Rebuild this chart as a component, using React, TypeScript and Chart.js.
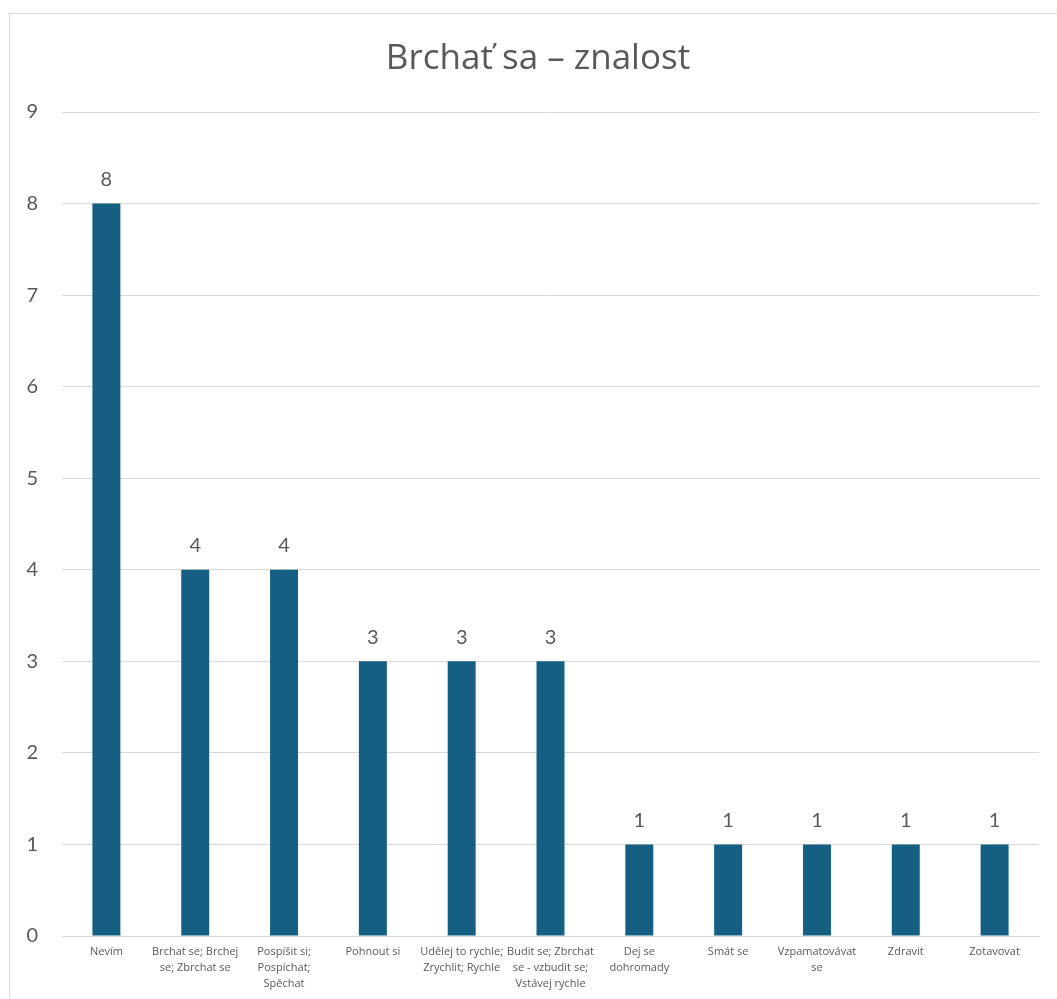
import React, { useEffect, useRef } from "react";
import { Chart, registerables } from "chart.js";

Chart.register(...registerables);

const chartTitle = "Brchať sa – znalost";
const categories: (string | string[])[] = [
  "Nevím",
  ["Brchat se; Brchej", "se; Zbrchat se"],
  ["Pospíšit si;", "Pospíchat;", "Spěchat"],
  "Pohnout si",
  ["Udělej to rychle;", "Zrychlit; Rychle"],
  ["Budit se; Zbrchat", "se - vzbudit se;", "Vstávej rychle"],
  ["Dej se", "dohromady"],
  "Smát se",
  ["Vzpamatovávat", "se"],
  "Zdravit",
  "Zotavovat",
];
const values = [8, 4, 4, 3, 3, 3, 1, 1, 1, 1, 1];
const yMin = 0;
const yMax = 9;

const FONT = "Lato, 'Open Sans', sans-serif";
const FONT2 = "'Open Sans', Lato, sans-serif";
const TEXT = "#595959";
const GRID = "#d9d9d9";
const BAR = "#156082";

const dataLabelPlugin = {
  id: "dataLabels",
  afterDatasetsDraw(chart: any) {
    const ctx = chart.ctx;
    const meta = chart.getDatasetMeta(0);
    ctx.save();
    ctx.font = `20px ${FONT}`;
    ctx.fillStyle = TEXT;
    ctx.textAlign = "center";
    ctx.textBaseline = "bottom";
    meta.data.forEach((el: any, i: number) => {
      ctx.fillText(String(chart.data.datasets[0].data[i]), el.x, el.y - 14);
    });
    ctx.restore();
  },
};

const titlePlugin = {
  id: "boxTitle",
  afterDraw(chart: any) {
    const ctx = chart.ctx;
    ctx.save();
    ctx.font = `35px ${FONT2}`;
    ctx.fillStyle = TEXT;
    ctx.textAlign = "center";
    ctx.textBaseline = "alphabetic";
    ctx.fillText(chartTitle, 538, 69);
    ctx.restore();
  },
};

export default function App() {
  const ref = useRef<HTMLCanvasElement>(null);
  useEffect(() => {
    if (!ref.current) return;
    const chart = new Chart(ref.current, {
      type: "bar",
      data: {
        labels: categories,
        datasets: [
          {
            data: values,
            backgroundColor: BAR,
            categoryPercentage: 1,
            barPercentage: 0.315,
          },
        ],
      },
      options: {
        animation: false,
        responsive: true,
        maintainAspectRatio: false,
        layout: { padding: { left: 0, right: 18, top: 112, bottom: 0 } },
        plugins: {
          legend: { display: false },
          tooltip: { enabled: false },
          title: { display: false },
        },
        scales: {
          x: {
            grid: { display: false, drawTicks: false },
            border: { display: true, color: GRID, width: 1 },
            ticks: {
              color: TEXT,
              font: { family: FONT2, size: 11, lineHeight: 1.45 },
              maxRotation: 0,
              minRotation: 0,
              autoSkip: false,
              padding: 8,
            },
            afterFit(scale: any) {
              scale.height = 63;
            },
          },
          y: {
            min: yMin,
            max: yMax,
            grid: { color: GRID, lineWidth: 1, drawTicks: false },
            border: { display: false },
            ticks: {
              stepSize: 1,
              color: TEXT,
              font: { family: FONT, size: 20 },
              padding: 24,
            },
            afterFit(scale: any) {
              scale.width = 62;
            },
          },
        },
      },
      plugins: [dataLabelPlugin, titlePlugin],
    });
    return () => chart.destroy();
  }, []);

  return (
    <div style={{ position: "fixed", left: 0, top: 0, width: 1057, height: 999, overflow: "hidden", background: "#fff" }}>
      <div
        style={{
          position: "absolute",
          left: 9,
          top: 13,
          width: 1100,
          height: 1100,
          border: `1.5px solid ${GRID}`,
          boxSizing: "border-box",
        }}
      />
      <div style={{ position: "absolute", left: 0, top: 0, width: 1057, height: 999 }}>
        <canvas ref={ref} />
      </div>
    </div>
  );
}
